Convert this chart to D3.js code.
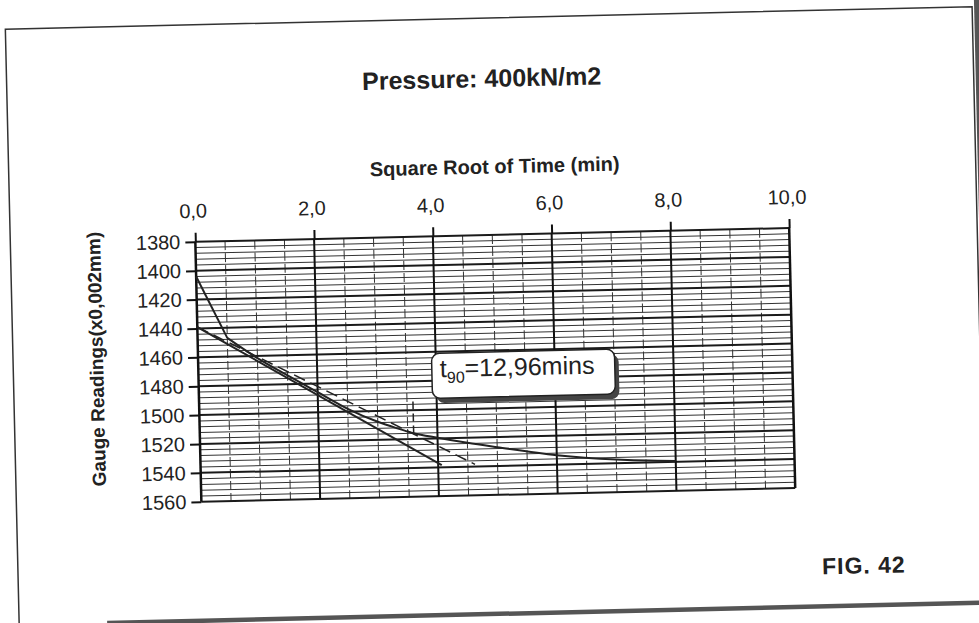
<!DOCTYPE html>
<html>
<head>
<meta charset="utf-8">
<script src="https://cdn.jsdelivr.net/npm/d3@7"></script>
<style>
  html, body { margin: 0; padding: 0; background: #fff; }
  svg { display: block; font-family: "Liberation Sans", Arial, sans-serif; }
</style>
</head>
<body>
<div id="chart"></div>
<script>
// texts
const chartTitle = 'Pressure: 400kN/m2';
const xTitle = 'Square Root of Time (min)';
const yTitle = 'Gauge Readings(x0,002mm)';
const figLabel = 'FIG. 42';

// ticks
const xTicks = [0, 2, 4, 6, 8, 10];
const yTicks = [1380, 1400, 1420, 1440, 1460, 1480, 1500, 1520, 1540, 1560];

// measured readings against square root of time
const rootTime = [0, 0.5, 1.0, 1.5, 2.0, 2.5, 3.0, 3.3, 3.6, 4.0, 4.5, 5.0, 6.0, 7.0, 8.0];
const gaugeReading = [1404, 1447, 1461.5, 1474, 1486, 1498, 1507.5, 1512, 1516, 1519.5, 1523.5, 1527, 1533.5, 1537.5, 1539.5];

// straight line fitted to the first part
const tangentRoot = [0, 4.06];
const tangentReading = [1439, 1538.5];

// same line with abscissa x 1.15
const offsetRoot = [0, 4.62];
const offsetReading = [1439, 1538.5];

// t90 marker
const t90Root = [3.6, 3.6];
const t90Reading = [1494, 1517];
const t90Label = ['t', '90', '=12,96mins'];

const width = 979;
const height = 623;
const tilt = -1.33;

const svg = d3.select('#chart')
  .append('svg')
  .attr('width', width)
  .attr('height', height);

const page = svg.append('g')
  .attr('transform', 'rotate(' + tilt + ' 490 310)');

// page frame of the scan
page.append('path')
  .attr('d', 'M12,660V18H979V660')
  .attr('fill', 'none')
  .attr('stroke', '#333')
  .attr('stroke-width', 1.5);

page.append('rect')
  .attr('x', 981)
  .attr('y', 0)
  .attr('width', 20)
  .attr('height', 300)
  .attr('fill', '#555');

page.append('line')
  .attr('x1', 100)
  .attr('x2', 979)
  .attr('y1', 614)
  .attr('y2', 614)
  .attr('stroke', '#555')
  .attr('stroke-width', 4.5);

const x = d3.scaleLinear().domain([0, 10]).range([197, 791]);
const y = d3.scaleLinear().domain([1380, 1560]).range([235, 495]);

const grid = page.append('g').attr('class', 'grid');

// minor horizontal lines every 4
grid.selectAll('.h-minor')
  .data(d3.range(1384, 1560, 4).filter((v) => v % 20 !== 0))
  .enter()
  .append('line')
  .attr('x1', x(0))
  .attr('x2', x(10))
  .attr('y1', (d) => y(d))
  .attr('y2', (d) => y(d))
  .attr('stroke', '#333')
  .attr('stroke-width', 1);

// minor vertical lines every 0.5, dashed
grid.selectAll('.v-minor')
  .data(d3.range(0.5, 10, 0.5).filter((v) => v % 2 !== 0))
  .enter()
  .append('line')
  .attr('x1', (d) => x(d))
  .attr('x2', (d) => x(d))
  .attr('y1', y(1380))
  .attr('y2', y(1560))
  .attr('stroke', '#333')
  .attr('stroke-width', 1)
  .attr('stroke-dasharray', '9,3');

// major horizontal lines
grid.selectAll('.h-major')
  .data(yTicks)
  .enter()
  .append('line')
  .attr('x1', x(0))
  .attr('x2', x(10))
  .attr('y1', (d) => y(d))
  .attr('y2', (d) => y(d))
  .attr('stroke', '#1a1a1a')
  .attr('stroke-width', 2);

// major vertical lines
grid.selectAll('.v-major')
  .data(xTicks)
  .enter()
  .append('line')
  .attr('x1', (d) => x(d))
  .attr('x2', (d) => x(d))
  .attr('y1', y(1380))
  .attr('y2', y(1560))
  .attr('stroke', '#111')
  .attr('stroke-width', (d) => (d === 0 || d === 10) ? 2.5 : 2);

// axes
const commaFormat = (d) => d3.format('.1f')(d).replace('.', ',');

const xAxis = page.append('g')
  .attr('transform', 'translate(0,' + y(1380) + ')')
  .call(d3.axisTop(x).tickValues(xTicks).tickFormat(commaFormat).tickSize(9).tickPadding(15));

const yAxis = page.append('g')
  .attr('transform', 'translate(' + x(0) + ',0)')
  .call(d3.axisLeft(y).tickValues(yTicks).tickFormat(d3.format('d')).tickSize(10).tickPadding(5));

[xAxis, yAxis].forEach((axis) => {
  axis.select('.domain').remove();
  axis.selectAll('.tick line').attr('stroke', '#111').attr('stroke-width', 2);
  axis.selectAll('.tick text')
    .attr('fill', '#222')
    .style('font-size', '20px')
    .style('font-family', '"Liberation Sans", Arial, sans-serif');
});
xAxis.selectAll('.tick text').attr('dx', '-2');

// data lines
const straight = d3.line()
  .x((d) => x(d[0]))
  .y((d) => y(d[1]));

const smooth = d3.line()
  .x((d) => x(d[0]))
  .y((d) => y(d[1]))
  .curve(d3.curveMonotoneX);

const series = page.append('g').attr('class', 'series');

series.append('path')
  .datum(d3.zip(offsetRoot, offsetReading))
  .attr('d', straight)
  .attr('fill', 'none')
  .attr('stroke', '#222')
  .attr('stroke-width', 1.5)
  .attr('stroke-dasharray', '12,6');

series.append('path')
  .datum(d3.zip(tangentRoot, tangentReading))
  .attr('d', straight)
  .attr('fill', 'none')
  .attr('stroke', '#222')
  .attr('stroke-width', 2);

// first reading drops straight, the rest is a smooth curve
const readings = d3.zip(rootTime, gaugeReading);

series.append('path')
  .datum(readings.slice(0, 2))
  .attr('d', straight)
  .attr('fill', 'none')
  .attr('stroke', '#222')
  .attr('stroke-width', 2);

series.append('path')
  .datum(readings.slice(1))
  .attr('d', smooth)
  .attr('fill', 'none')
  .attr('stroke', '#222')
  .attr('stroke-width', 2);

series.append('path')
  .datum(d3.zip(t90Root, t90Reading))
  .attr('d', straight)
  .attr('fill', 'none')
  .attr('stroke', '#222')
  .attr('stroke-width', 1.5)
  .attr('stroke-dasharray', '8,4');

// t90 callout
const boxX = x(3.93);
const boxY = y(1461);
const boxW = 183;
const boxH = 45;

const callout = page.append('g').attr('class', 'callout');

callout.append('rect')
  .attr('x', boxX + 4)
  .attr('y', boxY + 5)
  .attr('width', boxW)
  .attr('height', boxH)
  .attr('rx', 8)
  .attr('fill', '#444');

callout.append('rect')
  .attr('x', boxX)
  .attr('y', boxY)
  .attr('width', boxW)
  .attr('height', boxH)
  .attr('rx', 8)
  .attr('fill', '#fff')
  .attr('stroke', '#222')
  .attr('stroke-width', 1.5);

const calloutText = callout.append('text')
  .attr('x', boxX + 8)
  .attr('y', boxY + 24)
  .attr('fill', '#222')
  .style('font-size', '25px');

calloutText.append('tspan').text(t90Label[0]);
calloutText.append('tspan').attr('dy', 6).style('font-size', '16px').text(t90Label[1]);
calloutText.append('tspan').attr('dy', -6).text(t90Label[2]);

// titles
page.append('text')
  .attr('x', 487)
  .attr('y', 87)
  .attr('text-anchor', 'middle')
  .attr('fill', '#222')
  .style('font-size', '25px')
  .style('font-weight', 'bold')
  .text(chartTitle);

page.append('text')
  .attr('x', 498)
  .attr('y', 173.5)
  .attr('text-anchor', 'middle')
  .attr('fill', '#222')
  .style('font-size', '20px')
  .style('font-weight', 'bold')
  .text(xTitle);

page.append('text')
  .attr('transform', 'translate(102,350) rotate(-90)')
  .attr('text-anchor', 'middle')
  .attr('fill', '#222')
  .style('font-size', '19px')
  .style('font-weight', 'bold')
  .text(yTitle);

page.append('text')
  .attr('x', 816)
  .attr('y', 582)
  .attr('fill', '#222')
  .style('font-size', '23px')
  .style('font-weight', 'bold')
  .style('letter-spacing', '1px')
  .text(figLabel);
</script>
</body>
</html>
